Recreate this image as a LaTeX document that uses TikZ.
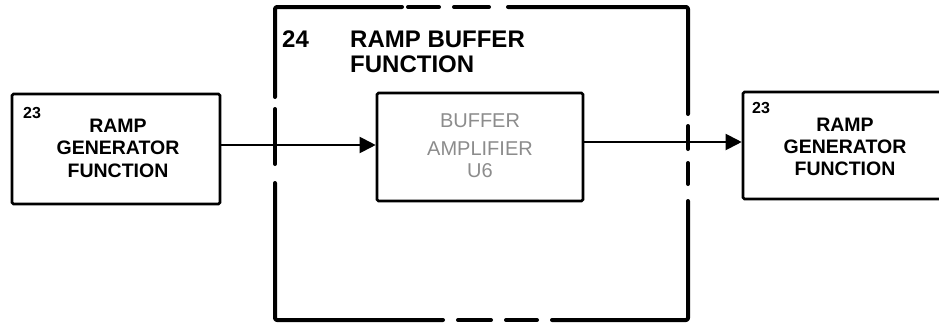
\documentclass[tikz,border=0pt]{standalone}
\usepackage{fontspec}
\setmainfont{Liberation Sans}
\usetikzlibrary{arrows.meta}
\begin{document}
\begin{tikzpicture}[x=1pt,y=-1pt,
  box/.style={draw, line width=2.6pt, rounded corners=1.5pt, inner sep=0pt},
  frame/.style={line width=4pt, line cap=round, line join=round, rounded corners=2pt},
  lbl/.style={anchor=base, inner sep=0pt, font=\fontsize{19.5}{22}\selectfont\bfseries},
  num/.style={anchor=base west, inner sep=0pt, font=\fontsize{16}{18}\selectfont\bfseries},
  ttl/.style={anchor=base west, inner sep=0pt, font=\fontsize{24}{28}\selectfont\bfseries},
  thin/.style={anchor=base, inner sep=0pt, text=black!45, font=\fontsize{20}{24}\selectfont},
  arr/.style={line width=2pt, -{Triangle[length=16pt,width=16pt]}}
]
\clip (0,0) rectangle (939,324);
\fill[white] (0,0) rectangle (939,324);

% boxes
\node[box, minimum width=208pt, minimum height=110pt] (lbox) at (116,149) {};
\node[box, minimum width=206pt, minimum height=108pt] (buf) at (480,147) {};
\node[box, minimum width=210pt, minimum height=107pt] (rbox) at (848,145.5) {};

% left box texts
\node[num] (lnum) at (23,118) {23};
\node[lbl] (l1) at (118,132) {RAMP};
\node[lbl] (l2) at (118,154) {GENERATOR};
\node[lbl] (l3) at (118,177) {FUNCTION};

% right box texts
\node[num] (rnum) at (752,113) {23};
\node[lbl] (r1) at (845,131) {RAMP};
\node[lbl] (r2) at (845,153) {GENERATOR};
\node[lbl] (r3) at (845,175) {FUNCTION};

% buffer texts
\node[thin] (b1) at (480,127) {BUFFER};
\node[thin] (b2) at (480,155) {AMPLIFIER};
\node[thin] (b3) at (480,177) {U6};

% title
\node[ttl] (tnum) at (282,47) {24};
\node[ttl] (t1) at (350,47) {RAMP BUFFER};
\node[ttl] (t2) at (350,72) {FUNCTION};

% dashed frame
\draw[frame] (275,97) -- (275,7) -- (402,7);
\draw[frame] (408,7) -- (439,7);
\draw[frame] (454,7) -- (489,7);
\draw[frame] (508,7) -- (688,7) -- (688,114);
\draw[frame] (688,126) -- (688,149);
\draw[frame] (688,163) -- (688,184);
\draw[frame] (688,201) -- (688,320) -- (552,320);
\draw[frame] (537,320) -- (506,320);
\draw[frame] (491,320) -- (458,320);
\draw[frame] (443,320) -- (275,320) -- (275,183);
\draw[frame] (275,109) -- (275,164);

% connectors
\coordinate (a1) at (0,145);
\coordinate (a2) at (0,142);
\draw[arr] (lbox.east |- a1) -- (buf.west |- a1);
\draw[arr] (buf.east |- a2) -- (rbox.west |- a2);
\end{tikzpicture}
\end{document}
